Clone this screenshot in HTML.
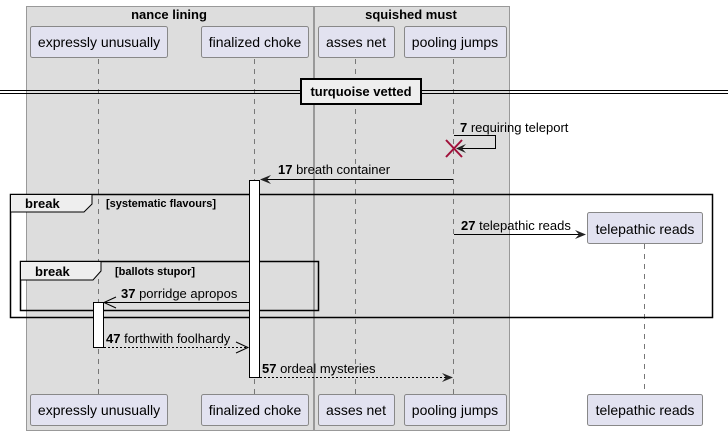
<!DOCTYPE html>
<html><head><style>body{margin:0;background:#fff}svg{display:block}text{font-family:"Liberation Sans",sans-serif;font-size:13px;fill:#000}.b{font-weight:bold}</style></head><body>
<svg width="728" height="435" xmlns="http://www.w3.org/2000/svg">
<rect x="26.5" y="6.5" width="287" height="424" fill="#ddd" stroke="#999"/>
<rect x="314.5" y="6.5" width="195" height="424" fill="#ddd" stroke="#999"/>
<text x="169" y="19" class="b" text-anchor="middle">nance lining</text>
<text x="411" y="19" class="b" text-anchor="middle">squished must</text>
<g stroke="#777" stroke-dasharray="5,5" stroke-width="1">
<line x1="98.5" y1="59" x2="98.5" y2="394"/><line x1="254.5" y1="59" x2="254.5" y2="394"/>
<line x1="355.5" y1="59" x2="355.5" y2="394"/><line x1="453.5" y1="59" x2="453.5" y2="394"/>
<line x1="644.5" y1="244" x2="644.5" y2="394"/>
</g>
<g fill="#e2e2f0" stroke="#888">
<rect x="30.5" y="26.5" width="137" height="31" rx="2"/><rect x="201.5" y="26.5" width="107" height="31" rx="2"/>
<rect x="318.5" y="26.5" width="76" height="31" rx="2"/><rect x="404.5" y="26.5" width="102" height="31" rx="2"/>
<rect x="30.5" y="394.5" width="137" height="31" rx="2"/><rect x="201.5" y="394.5" width="107" height="31" rx="2"/>
<rect x="318.5" y="394.5" width="76" height="31" rx="2"/><rect x="404.5" y="394.5" width="102" height="31" rx="2"/>
<rect x="587.5" y="212.5" width="115" height="31" rx="2"/><rect x="587.5" y="394.5" width="115" height="31" rx="2"/>
</g>
<g font-size="14" text-anchor="middle">
<text x="99" y="47" style="font-size:14px">expressly unusually</text><text x="255" y="47" style="font-size:14px">finalized choke</text>
<text x="356" y="47" style="font-size:14px">asses net</text><text x="455" y="47" style="font-size:14px">pooling jumps</text>
<text x="99" y="415" style="font-size:14px">expressly unusually</text><text x="255" y="415" style="font-size:14px">finalized choke</text>
<text x="356" y="415" style="font-size:14px">asses net</text><text x="455" y="415" style="font-size:14px">pooling jumps</text>
<text x="645" y="234" style="font-size:14px">telepathic reads</text><text x="645" y="415" style="font-size:14px">telepathic reads</text>
</g>
<!-- divider -->
<line x1="0" y1="90.5" x2="728" y2="90.5" stroke="#000"/><line x1="0" y1="93.5" x2="728" y2="93.5" stroke="#000"/>
<rect x="301" y="79" width="120" height="25" fill="#eee" stroke="#000" stroke-width="2"/>
<text x="361" y="96" class="b" text-anchor="middle">turquoise vetted</text>
<!-- msg 7 -->
<polyline points="454,135.5 495.5,135.5 495.5,148.5 458,148.5" fill="none" stroke="#000"/>
<polygon points="456,148.5 466,144 462,148.5 466,153" fill="#222"/>
<line x1="446" y1="140" x2="462" y2="157" stroke="#a0103a" stroke-width="2"/><line x1="462" y1="140" x2="446" y2="157" stroke="#a0103a" stroke-width="2"/>
<text x="460" y="132"><tspan class="b">7</tspan> requiring teleport</text>
<!-- msg 17 -->
<line x1="261" y1="179.5" x2="453" y2="179.5" stroke="#000"/>
<polygon points="260,179.5 271,175 267,179.5 271,184" fill="#222"/>
<text x="278" y="174"><tspan class="b">17</tspan> breath container</text>
<!-- frames -->
<rect x="10.5" y="194.5" width="702" height="123" fill="none" stroke="#000" stroke-width="1.5"/>
<polygon points="10.5,194.5 92,194.5 92,204 84,212 10.5,212" fill="#eee" stroke="#000"/>
<text x="25" y="208" class="b">break</text>
<text x="106" y="207" class="b" style="font-size:11px">[systematic flavours]</text>
<rect x="20.5" y="261.5" width="298" height="49" fill="none" stroke="#000" stroke-width="1.5"/>
<polygon points="20.5,261.5 101,261.5 101,271 93,280 20.5,280" fill="#eee" stroke="#000"/>
<text x="35" y="276" class="b">break</text>
<text x="115" y="275" class="b" style="font-size:11px">[ballots stupor]</text>
<!-- activations -->
<rect x="249.5" y="180.5" width="10" height="197" fill="#fff" stroke="#000"/>
<rect x="93.5" y="302.5" width="10" height="45" fill="#fff" stroke="#000"/>
<!-- msg 27 -->
<line x1="454" y1="234.5" x2="584" y2="234.5" stroke="#000"/>
<polygon points="586,234.5 575,230 579,234.5 575,239" fill="#222"/>
<text x="461" y="230"><tspan class="b">27</tspan> telepathic reads</text>
<!-- msg 37 -->
<line x1="105" y1="302.5" x2="249" y2="302.5" stroke="#000"/>
<polyline points="116,297 104,302.5 116,308" fill="none" stroke="#000"/>
<text x="121" y="298"><tspan class="b">37</tspan> porridge apropos</text>
<!-- msg 47 -->
<line x1="104" y1="347.5" x2="247" y2="347.5" stroke="#000" stroke-dasharray="2,2"/>
<polyline points="236,342 248,347.5 236,353" fill="none" stroke="#000"/>
<text x="106" y="343"><tspan class="b">47</tspan> forthwith foolhardy</text>
<!-- msg 57 -->
<line x1="260" y1="377.5" x2="450" y2="377.5" stroke="#000" stroke-dasharray="2,2"/>
<polygon points="453,377.5 442,373 446,377.5 442,382" fill="#222"/>
<text x="262" y="373"><tspan class="b">57</tspan> ordeal mysteries</text>
</svg>
</body></html>
